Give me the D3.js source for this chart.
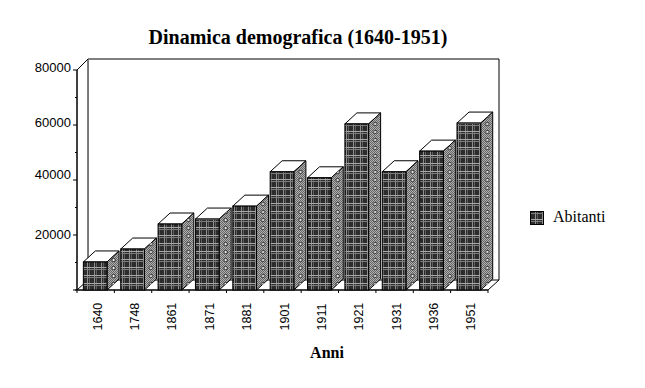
<!DOCTYPE html>
<html><head><meta charset="utf-8">
<script src="https://cdn.jsdelivr.net/npm/d3@7/dist/d3.min.js"></script>
<style>html,body{margin:0;padding:0;background:#fff}svg{display:block}</style>
</head><body><svg id="c" width="645" height="388"></svg>
<script>
const categories = ["1640","1748","1861","1871","1881","1901","1911","1921","1931","1936","1951"];
const abitanti = [10200,14900,24000,25800,30500,43000,40800,60400,43000,50500,60700];
const yTicks = [20000,40000,60000,80000];
const yLabelShift = [4,-1,1.5,1.5];
const minorTicks = [0,10000,30000,50000,70000];
const title = "Dinamica demografica (1640-1951)";
const xTitle = "Anni";
const seriesName = "Abitanti";

const svg = d3.select("#c");
const defs = svg.append("defs");
const depth = 12, serif = "'Liberation Serif',serif", sans = "'Liberation Sans',Arial,sans-serif";

const x = d3.scaleBand().domain(categories).range([77,488]);
const y = d3.scaleLinear().domain([0,80000]).range([290,70]);
const barOff = x.step()*0.17, barW = x.step()*0.635;

// front: dark grid
const pf = defs.append("pattern").attr("id","front").attr("width",7).attr("height",8).attr("patternUnits","userSpaceOnUse");
pf.append("rect").attr("width",7).attr("height",8).attr("fill","#2c2c2c");
pf.append("rect").attr("x",3).attr("width",1).attr("height",8).attr("fill","#8f8f8f");
pf.append("rect").attr("x",5).attr("width",1).attr("height",8).attr("fill","#5e5e5e");
pf.append("rect").attr("y",3).attr("width",7).attr("height",1).attr("fill","#a8a8a8");
pf.append("rect").attr("y",5).attr("width",7).attr("height",1).attr("fill","#7c7c7c");
// side: grey dither
const ps = defs.append("pattern").attr("id","side").attr("width",2).attr("height",2).attr("patternUnits","userSpaceOnUse");
ps.append("rect").attr("width",2).attr("height",2).attr("fill","#b0b0b0");
ps.append("rect").attr("width",1).attr("height",1).attr("fill","#666");
ps.append("rect").attr("x",1).attr("y",1).attr("width",1).attr("height",1).attr("fill","#666");
// side: one column of rings per bar
const ps2 = defs.append("pattern").attr("id","rings").attr("width",x.step()).attr("height",8).attr("patternUnits","userSpaceOnUse").attr("x",x(categories[0])+barOff+barW);
ps2.append("circle").attr("cx",6.5).attr("cy",4).attr("r",1.7).attr("fill","#f4f4f4").attr("stroke","#111").attr("stroke-width",0.9);

const line = (a,b,c,d,col="#000",w=1)=>svg.append("line").attr("x1",a).attr("y1",b).attr("x2",c).attr("y2",d).attr("stroke",col).attr("stroke-width",w);

// back wall & floor
const x0=x.range()[0], x1=x.range()[1], y0=y(0), yT=y(80000);
svg.append("path").attr("d",`M${x0},${y0}L${x0+depth-1},${y0-10}V${yT-11}H${x1+depth-1}V${y0-10}L${x1},${y0}Z`)
  .attr("fill","#fff").attr("stroke","#000").attr("stroke-width",1);
line(x0+depth-1,y0-10,x1+depth-1,y0-10);
line(x0,yT,x0+depth-1,yT-11);
line(x0+depth-0.5,yT-11,x0+depth-0.5,y0-10,"#777",1);

// y axis
line(x0,yT,x0,y0,"#000",1.5);
svg.selectAll(".maj").data(yTicks).join("line").attr("x1",x0-4).attr("x2",x0).attr("y1",d=>y(d)).attr("y2",d=>y(d)).attr("stroke","#000");
svg.selectAll(".min").data(minorTicks).join("line").attr("x1",x0-2).attr("x2",x0).attr("y1",d=>y(d)).attr("y2",d=>y(d)).attr("stroke","#000");
svg.selectAll(".yl").data(yTicks).join("text").attr("x",x0-6).attr("y",(d,i)=>y(d)+yLabelShift[i])
  .attr("text-anchor","end").attr("font-family",sans).attr("font-size",13).attr("fill","#000").text(d=>d);

// x axis
line(x0-4,y0,x1,y0,"#000",1.2);
svg.selectAll(".xt").data([...categories.map(c=>x(c)),x1]).join("line").attr("x1",d=>d).attr("x2",d=>d).attr("y1",y0).attr("y2",y0+3).attr("stroke","#000");
svg.selectAll(".xl").data(categories).join("text")
  .attr("transform",c=>`translate(${x(c)+x.step()/2+6},330.5) rotate(-90)`)
  .attr("font-family",sans).attr("font-size",12.5).attr("fill","#000").text(c=>c);

// bars
const g = svg.selectAll(".bar").data(categories.map((c,i)=>({c,v:abitanti[i]}))).join("g");
g.append("path").attr("d",d=>{const a=x(d.c)+barOff,t=y(d.v);return `M${a},${t}l${depth},${-depth+1}h${barW}l${-depth},${depth-1}Z`;})
  .attr("fill","#fff").attr("stroke","#000");
const sidePath = d=>{const a=x(d.c)+barOff+barW,t=y(d.v);return `M${a},${t}l${depth},${-depth+1}V${y0-depth+1}L${a},${y0}Z`;};
g.append("path").attr("d",sidePath).attr("fill","url(#side)").attr("stroke","#000");
g.append("path").attr("d",sidePath).attr("fill","url(#rings)");
g.append("rect").attr("x",d=>x(d.c)+barOff).attr("y",d=>y(d.v)).attr("width",barW).attr("height",d=>y0-y(d.v))
  .attr("fill","url(#front)").attr("stroke","#000");

// titles
svg.append("text").attr("x",298).attr("y",44).attr("text-anchor","middle").attr("font-family",serif).attr("font-weight","bold").attr("font-size",20).attr("fill","#000").text(title);
svg.append("text").attr("x",327).attr("y",358).attr("text-anchor","middle").attr("font-family",serif).attr("font-weight","bold").attr("font-size",16).attr("fill","#000").text(xTitle);

// legend
svg.append("rect").attr("x",530.5).attr("y",211.5).attr("width",13).attr("height",13).attr("fill","url(#front)").attr("stroke","#000");
svg.append("text").attr("x",553).attr("y",222).attr("font-family",serif).attr("font-size",16).attr("fill","#000").text(seriesName);
</script></body></html>
